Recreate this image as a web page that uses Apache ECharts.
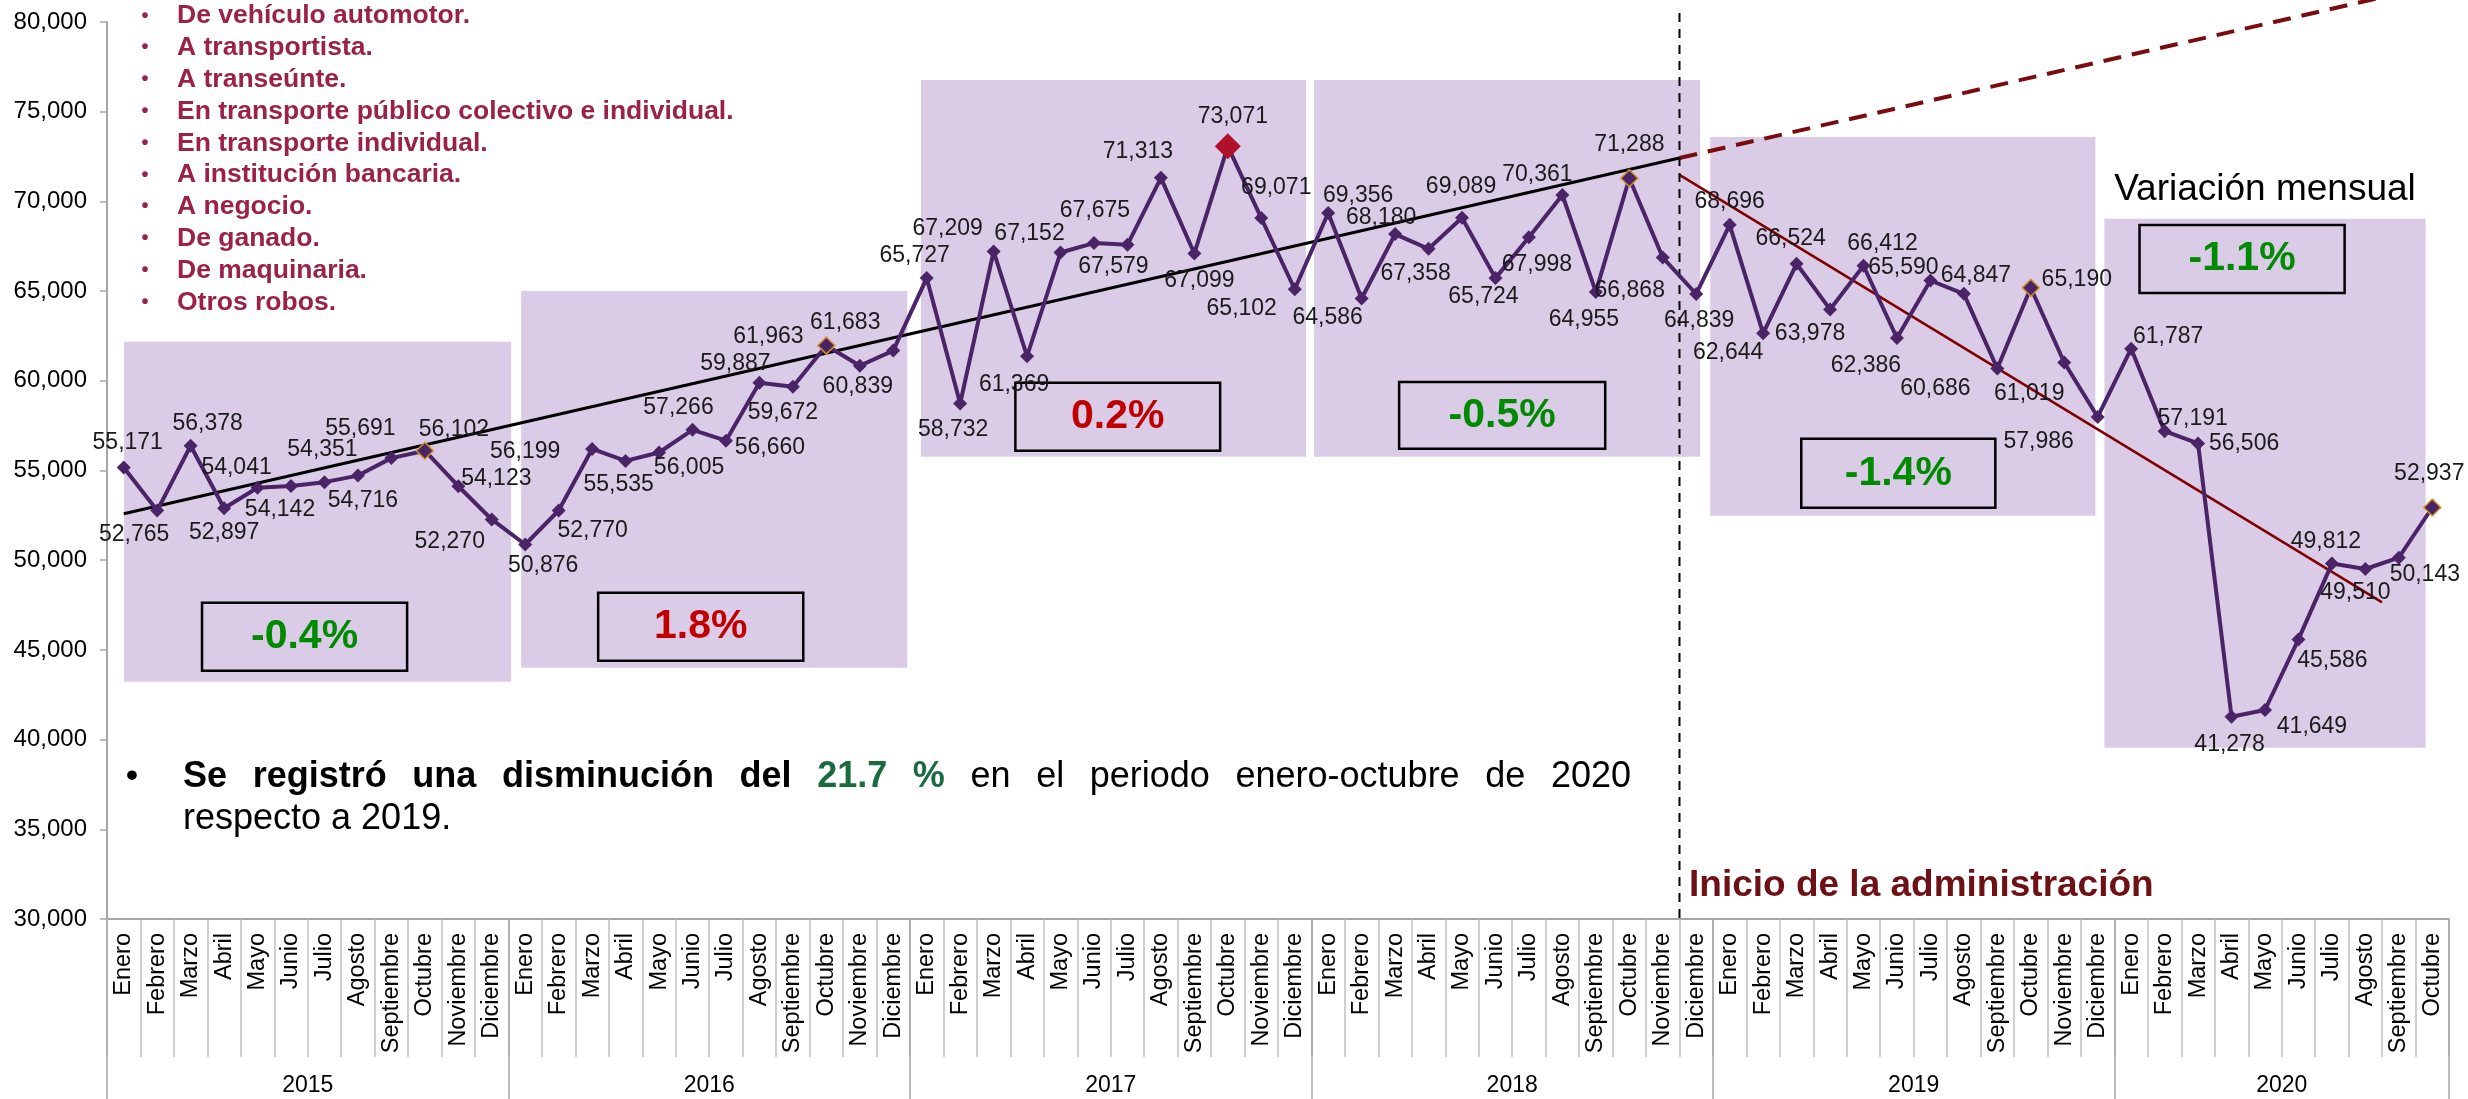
<!DOCTYPE html>
<html>
<head>
<meta charset="utf-8">
<script src="https://cdn.jsdelivr.net/npm/echarts@6/dist/echarts.min.js"></script>
<style>
html,body{margin:0;padding:0;background:#ffffff;}
#c{width:2468px;height:1099px;}
</style>
</head>
<body>
<div id="c"></div>
<script>
// ---------------- DATA ----------------
const monthNames = ['Enero','Febrero','Marzo','Abril','Mayo','Junio','Julio','Agosto','Septiembre','Octubre','Noviembre','Diciembre'];
const years = ['2015','2016','2017','2018','2019','2020'];
const monthsPerYear = [12,12,12,12,12,10];
const yTicks = { min: 30000, max: 80000, step: 5000 };

const v2015 = [55171,52765,56378,52897,54041,54142,54351,54716,55691,56102,54123,52270];
const v2016 = [50876,52770,56199,55535,56005,57266,56660,59887,59672,61963,60839,61683];
const v2017 = [65727,58732,67209,61369,67152,67675,67579,71313,67099,73071,69071,65102];
const v2018 = [69356,64586,68180,67358,69089,65724,67998,70361,64955,71288,66868,64839];
const v2019 = [68696,62644,66524,63978,66412,62386,65590,64847,60686,65190,61019,57986];
const v2020 = [61787,57191,56506,41278,41649,45586,49812,49510,50143,52937];

// trend lines (x in month-slot units: month i centred at i+0.5)
const tendencia2015_2018 = [[0.5, 52590], [47, 72420]];
const proyeccion = [[47, 72420], [70, 82230]];
const tendencia2019_2020 = [[47, 71480], [68, 47650]];
const inicioAdministracion = 47;

const variaciones = ['-0.4%', '1.8%', '0.2%', '-0.5%', '-1.4%', '-1.1%'];

const tiposRobo = ['De vehículo automotor.','A transportista.','A transeúnte.','En transporte público colectivo e individual.','En transporte individual.','A institución bancaria.','A negocio.','De ganado.','De maquinaria.','Otros robos.'];

// ---------------- LAYOUT / STYLE ----------------
const FONT = "'Liberation Sans', Arial, Helvetica, sans-serif";
const PURPLE = '#4a2466';
const GREEN = '#008a00';
const RED = '#c00000';

// shaded period boxes [x1, x2, y1, y2]
const shadeBoxes = [
  [0.51, 12.08, 43230, 62170],
  [12.38, 23.92, 44010, 65010],
  [24.33, 35.84, 55770, 76770],
  [36.08, 47.62, 55770, 76770],
  [47.92, 59.43, 52480, 73590],
  [59.70, 69.30, 39550, 69030]
];
// framed variation boxes [x1, x2, y1, y2]
const varBoxes = [
  [2.84, 8.97, 43840, 47630],
  [14.68, 20.81, 44400, 48190],
  [27.15, 33.27, 56100, 59890],
  [38.62, 44.78, 56210, 59940],
  [50.64, 56.44, 52930, 56770],
  [60.75, 66.88, 64900, 68690]
];
// data label offsets [dx, dy] from the point
const labelOffsets = [
[4,-25],[-23,24],[17,-22],[0,24],[-21,-20],[-11,24],[-2,-32],[5,25],[-31,-29],[29,-21],[38,-8],[-42,22],
[18,21],[34,20],[-67,3],[-7,24],[30,15],[-14,-22],[44,7],[-24,-19],[-10,26],[-58,-9],[-2,21],[-48,-28],
[-12,-22],[-7,26],[-46,-23],[-13,28],[-31,-19],[1,-32],[-14,22],[-23,-26],[5,27],[5,-30],[15,-30],[-53,19],
[30,-17],[-34,19],[-14,-16],[-13,25],[-1,-31],[-12,19],[8,27],[-25,-20],[-12,28],[0,-34],[-33,33],[3,27],
[0,-23],[-35,19],[-6,-25],[-20,24],[19,-22],[-31,28],[-27,-13],[12,-18],[-62,20],[46,-8],[-35,31],[-59,25],
[37,-12],[28,-13],[46,0],[-2,28],[47,17],[34,21],[-6,-22],[-10,24],[26,17],[-3,-34]
];

// ---------------- BUILD ----------------
const categories = [];
years.forEach((y, k) => { for (let m = 0; m < monthsPerYear[k]; m++) categories.push(monthNames[m]); });
const values = [].concat(v2015, v2016, v2017, v2018, v2019, v2020);
const total = categories.length;

const yearCenter = {};
let acc = 0;
years.forEach((y, k) => { yearCenter[acc + monthsPerYear[k] / 2] = y; acc += monthsPerYear[k]; });

const mainData = values.map((v, i) => {
  const item = { value: v };
  if (categories[i] === 'Octubre') {
    item.symbolSize = 17;
    item.itemStyle = { borderColor: '#d4952a', borderWidth: 1.5 };
  }
  return item;
});
// max point in red
let maxIdx = 0; values.forEach((v, i) => { if (v > values[maxIdx]) maxIdx = i; });
mainData[maxIdx].symbolSize = 26;
mainData[maxIdx].itemStyle = { color: '#b0102a', borderColor: '#b0102a', borderWidth: 0 };

const shadeData = shadeBoxes.map(b => [{ coord: [b[0], b[3]] }, { coord: [b[1], b[2]] }]);
const varData = varBoxes.map((b, k) => [
  { name: variaciones[k], coord: [b[0], b[3]],
    label: { color: variaciones[k].charAt(0) === '-' ? GREEN : RED } },
  { coord: [b[1], b[2]] }
]);

// ---------------- GRAPHICS (texts) ----------------
const graphics = [];
tiposRobo.forEach((t, k) => {
  const y = 16 + k * 31.8;
  graphics.push({ type: 'text', x: 145, y: y, z: 50,
    style: { text: '•', font: 'bold 20px ' + FONT, fill: '#9b2247', align: 'center', verticalAlign: 'middle', textAlign: 'center', textVerticalAlign: 'middle' } });
  graphics.push({ type: 'text', x: 177, y: y, z: 50,
    style: { text: t, font: 'bold 26.5px ' + FONT, fill: '#9b2247', align: 'left', verticalAlign: 'middle', textAlign: 'left', textVerticalAlign: 'middle' } });
});

const ctx = document.createElement('canvas').getContext('2d');
function tw(t, bold, size) { ctx.font = (bold ? 'bold ' : '') + size + 'px ' + FONT; return ctx.measureText(t).width; }
const SZ = 36;
const line1 = [['Se',1,0],['registró',1,0],['una',1,0],['disminución',1,0],['del',1,0],['21.7',1,1],['%',1,1],
  ['en',0,0],['el',0,0],['periodo',0,0],['enero-octubre',0,0],['de',0,0],['2020',0,0]];
const L1 = 183, R1 = 1631;
let sumW = 0; line1.forEach(w => { sumW += tw(w[0], w[1], SZ); });
const gap = (R1 - L1 - sumW) / (line1.length - 1);
let cx = L1;
line1.forEach(w => {
  graphics.push({ type: 'text', x: cx, y: 777, z: 50,
    style: { text: w[0], font: (w[1] ? 'bold ' : '') + SZ + 'px ' + FONT, fill: w[2] ? '#1a6b3f' : '#000000',
      align: 'left', verticalAlign: 'middle', textAlign: 'left', textVerticalAlign: 'middle' } });
  cx += tw(w[0], w[1], SZ) + gap;
});
graphics.push({ type: 'text', x: 183, y: 819, z: 50,
  style: { text: 'respecto a 2019.', font: SZ + 'px ' + FONT, fill: '#000', align: 'left', verticalAlign: 'middle', textAlign: 'left', textVerticalAlign: 'middle' } });
graphics.push({ type: 'text', x: 132, y: 777, z: 50,
  style: { text: '•', font: 'bold 34px ' + FONT, fill: '#000', align: 'center', verticalAlign: 'middle', textAlign: 'center', textVerticalAlign: 'middle' } });

graphics.push({ type: 'text', x: 2265, y: 190, z: 50,
  style: { text: 'Variación mensual', font: '37px ' + FONT, fill: '#000', align: 'center', verticalAlign: 'middle', textAlign: 'center', textVerticalAlign: 'middle' } });
graphics.push({ type: 'text', x: 1689, y: 886, z: 50,
  style: { text: 'Inicio de la administración', font: 'bold 37px ' + FONT, fill: '#6d1116', align: 'left', verticalAlign: 'middle', textAlign: 'left', textVerticalAlign: 'middle' } });

// ---------------- CHART ----------------
const chart = echarts.init(document.getElementById('c'), null, { renderer: 'canvas' });
const option = {
  backgroundColor: '#ffffff',
  animation: false,
  textStyle: { fontFamily: FONT },
  grid: { left: 107, right: 19, top: 22, bottom: 180, containLabel: false },
  xAxis: [
    {
      type: 'category', data: categories, boundaryGap: true, position: 'bottom',
      axisLine: { show: true, lineStyle: { color: '#a6a6a6', width: 2 } },
      axisTick: { show: true, interval: 0, length: 138, lineStyle: { color: '#bfbfbf', width: 1.5 } },
      axisLabel: { interval: 0, rotate: 90, fontSize: 23.5, color: '#000', margin: 14, fontFamily: FONT },
      splitLine: { show: false }
    },
    {
      type: 'value', min: 0, max: total, interval: 12, position: 'bottom',
      axisLine: { show: false },
      axisTick: { show: true, length: 182, lineStyle: { color: '#a6a6a6', width: 1.5 } },
      axisLabel: { show: false },
      splitLine: { show: false }
    },
    {
      type: 'value', min: 0, max: total, interval: 1, position: 'bottom',
      axisLine: { show: false }, axisTick: { show: false }, splitLine: { show: false },
      axisLabel: { show: true, margin: 155, fontSize: 23, color: '#000', fontFamily: FONT,
        showMinLabel: true, showMaxLabel: true,
        formatter: v => (yearCenter[v] !== undefined ? yearCenter[v] : '') }
    }
  ],
  yAxis: {
    type: 'value', min: yTicks.min, max: yTicks.max, interval: yTicks.step,
    axisLine: { show: true, lineStyle: { color: '#a6a6a6', width: 2 } },
    axisTick: { show: true, length: 7, lineStyle: { color: '#a6a6a6', width: 1.5 } },
    axisLabel: { fontSize: 24, color: '#000', margin: 20, fontFamily: FONT,
      formatter: v => v.toLocaleString('en-US') },
    splitLine: { show: false }
  },
  series: [
    {
      name: 'periodos', type: 'line', xAxisIndex: 1, data: [], silent: true, z: 1,
      markArea: { silent: true, itemStyle: { color: '#dacbe6' }, label: { show: false }, data: shadeData }
    },
    {
      name: 'variaciones', type: 'line', xAxisIndex: 1, data: [], silent: true, z: 2,
      markArea: { silent: true,
        itemStyle: { color: 'rgba(0,0,0,0)', borderColor: '#000', borderWidth: 2.5 },
        label: { show: true, position: 'inside', fontSize: 41, fontWeight: 'bold', fontFamily: FONT },
        data: varData }
    },
    {
      name: 'tendencia', type: 'line', xAxisIndex: 1, data: tendencia2015_2018, z: 3,
      showSymbol: false, symbol: 'none', silent: true,
      lineStyle: { color: '#000', width: 3 }
    },
    {
      name: 'proyeccion', type: 'line', xAxisIndex: 1, data: proyeccion, z: 3, clip: false,
      showSymbol: false, symbol: 'none', silent: true,
      lineStyle: { color: '#7a0c10', width: 4, type: [18, 11] }
    },
    {
      name: 'tendencia2', type: 'line', xAxisIndex: 1, data: tendencia2019_2020, z: 3,
      showSymbol: false, symbol: 'none', silent: true,
      lineStyle: { color: '#800000', width: 2.5 }
    },
    {
      name: 'inicio', type: 'line', xAxisIndex: 1, z: 3, clip: false,
      data: [[inicioAdministracion, yTicks.max + 500], [inicioAdministracion, yTicks.min]],
      showSymbol: false, symbol: 'none', silent: true,
      lineStyle: { color: '#000', width: 2, type: [9, 7] }
    },
    {
      name: 'Robos', type: 'line', xAxisIndex: 0, data: mainData, z: 5,
      symbol: 'diamond', symbolSize: 14, showAllSymbol: true,
      itemStyle: { color: PURPLE },
      lineStyle: { color: PURPLE, width: 4 },
      label: { show: true, position: 'inside', fontSize: 23, color: '#1a1a1a', fontFamily: FONT,
        formatter: p => p.value.toLocaleString('en-US') },
      labelLayout: function (p) {
        const o = labelOffsets[p.dataIndex] || [0, 0];
        return { dx: o[0], dy: o[1], hideOverlap: false };
      }
    }
  ],
  graphic: graphics
};
chart.setOption(option);
</script>
</body>
</html>
